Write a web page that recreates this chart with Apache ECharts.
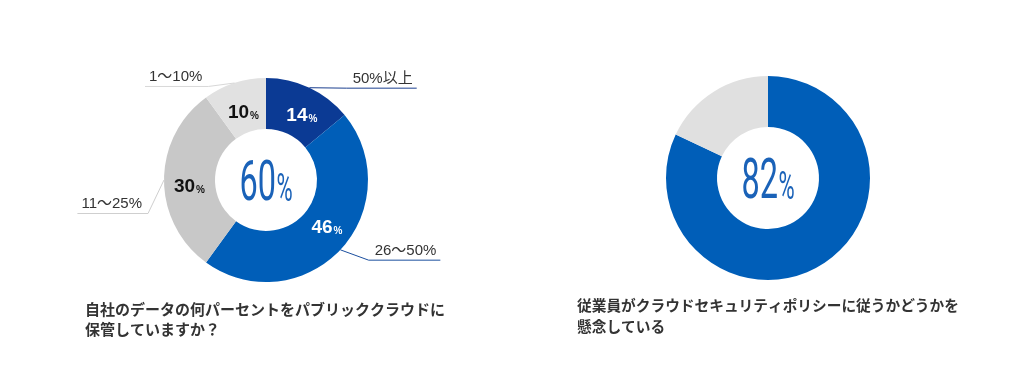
<!DOCTYPE html>
<html>
<head>
<meta charset="utf-8">
<script src="https://cdn.jsdelivr.net/npm/echarts@6/dist/echarts.min.js"></script>
<style>
html,body{margin:0;padding:0;background:#fff;}
#main{width:1032px;height:369px;}
</style>
</head>
<body>
<div id="main"></div>
<script>
// ---- data ----
const q1Categories = ['50%以上', '26～50%', '11～25%', '1～10%'];
const q1Values = [14, 46, 30, 10];
const q1CenterValue = 60;
const q1Title = '自社のデータの何パーセントをパブリッククラウドに\n保管していますか？';

const q2Categories = ['懸念している', '懸念していない'];
const q2Values = [82, 18];
const q2CenterValue = 82;
const q2Title = '従業員がクラウドセキュリティポリシーに従うかどうかを\n懸念している';

// ---- styles ----
const q1Colors = ['#0b3a94', '#005eb8', '#c8c8c8', '#e1e1e1'];
const q1InnerLabelColors = ['#ffffff', '#ffffff', '#111111', '#111111'];
const q1InnerNudge = [[2, 8], [3, -7], [3, 7], [2, 8]];
const q1LineColors = ['#1b3f8f', '#1b4f9f', '#cfcfcf', '#d8d8d8'];
const q1LabelNudge = [[4, 0], [-8, -6], [23, 24], [6, 3.5]];
const q2Colors = ['#005eb8', '#e0e0e0'];

const FONT_LATIN = '"Liberation Sans", Arial, "Noto Sans CJK JP", sans-serif';
const FONT_JP = '"Noto Sans CJK JP", sans-serif';
const center1 = [266, 180];
const center2 = [768, 178];
const radius = [51, 102];

const chart = echarts.init(document.getElementById('main'), null, {renderer: 'canvas'});

const innerData = q1Values.map((v, i) => ({
  value: v, name: q1Categories[i],
  itemStyle: {color: q1Colors[i]},
  label: {color: q1InnerLabelColors[i]}
}));
const outerData = q1Values.map((v, i) => ({
  value: v, name: q1Categories[i],
  itemStyle: {color: 'transparent'},
  labelLine: {lineStyle: {color: q1LineColors[i]}}
}));
const q2Data = q2Values.map((v, i) => ({
  value: v, name: q2Categories[i], itemStyle: {color: q2Colors[i]}
}));

function centerText(x, y, value) {
  return {
    type: 'text', x: x, y: y, scaleX: 0.58, silent: true,
    style: {
      text: '{n|' + value + '}{p|%}',
      align: 'center', verticalAlign: 'middle',
      fill: '#1a62b8',
      rich: {
        n: {fontSize: 56, fontFamily: 'Roboto, sans-serif', fontWeight: 400, fill: '#1a62b8', verticalAlign: 'bottom'},
        p: {fontSize: 38, fontFamily: 'Roboto, sans-serif', fontWeight: 400, fill: '#1a62b8', verticalAlign: 'bottom', padding: [0, 0, 4, 1]}
      }
    }
  };
}

const option = {
  backgroundColor: '#ffffff',
  animation: false,
  title: [
    {text: q1Title, left: 85, top: 299, padding: 0,
     textStyle: {fontSize: 15, fontWeight: 'bold', color: '#333', lineHeight: 20, fontFamily: FONT_JP}},
    {text: q2Title, left: 577, top: 295, padding: 0,
     textStyle: {fontSize: 14.7, fontWeight: 'bold', color: '#333', lineHeight: 21, fontFamily: FONT_JP}}
  ],
  series: [
    {
      type: 'pie', center: center1, radius: radius, startAngle: 90, clockwise: true,
      silent: true, avoidLabelOverlap: false,
      label: {
        show: true, position: 'inside',
        formatter: '{v|{c}}{u|%}',
        rich: {
          v: {fontSize: 19, fontWeight: 'bold', fontFamily: FONT_LATIN},
          u: {fontSize: 10, fontWeight: 'bold', fontFamily: FONT_LATIN, verticalAlign: 'bottom', padding: [0, 0, 1, 1]}
        }
      },
      labelLayout: function (p) {
        const n = q1InnerNudge[p.dataIndex];
        return {dx: n[0], dy: n[1]};
      },
      labelLine: {show: false},
      data: innerData
    },
    {
      type: 'pie', center: center1, radius: radius, startAngle: 90, clockwise: true,
      silent: true, avoidLabelOverlap: false, z: 3,
      label: {
        show: true, position: 'outside', formatter: '{b}',
        color: '#333', fontSize: 15, fontFamily: FONT_LATIN, lineHeight: 17,
        distanceToLabelLine: 5
      },
      labelLine: {show: true, length: 10, length2: 30, smooth: false, lineStyle: {width: 1, opacity: 1}},
      labelLayout: function (p) {
        const n = q1LabelNudge[p.dataIndex];
        const r = p.labelRect;
        const x = r.x + n[0];
        const y = r.y + n[1];
        const isLeft = p.align === 'right';
        const lineY = y + r.height + 1;
        const start = p.labelLinePoints[0];
        const near = isLeft ? x + r.width + 6 : x - 6;
        const far = isLeft ? x - 4 : x + r.width + 4;
        return {dx: n[0], dy: n[1], labelLinePoints: [start, [near, lineY], [far, lineY]]};
      },
      data: outerData
    },
    {
      type: 'pie', center: center2, radius: radius, startAngle: 90, clockwise: true,
      silent: true, label: {show: false}, labelLine: {show: false},
      data: q2Data
    }
  ],
  graphic: [
    centerText(center1[0], center1[1] + 6, q1CenterValue),
    centerText(center2[0], center2[1] + 6, q2CenterValue)
  ]
};
chart.setOption(option);
</script>
</body>
</html>
